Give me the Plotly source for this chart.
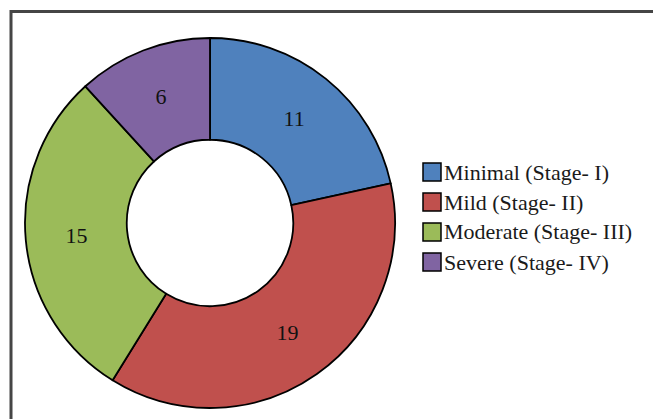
import plotly.graph_objects as go

W, H = 653, 419

labels = ["Minimal (Stage- I)", "Mild (Stage- II)", "Moderate (Stage- III)", "Severe (Stage- IV)"]
values = [11, 19, 15, 6]
colors = ["#4F81BD", "#C0504D", "#9BBB59", "#8064A2"]

SERIF = "'Liberation Serif', 'Times New Roman', Times, serif"
cx, cy, r = 210, 223, 185  # pixel centre/radius of donut

fig = go.Figure(go.Pie(
    labels=labels,
    values=values,
    sort=False,
    direction="clockwise",
    rotation=0,
    hole=0.45,
    marker=dict(colors=colors, line=dict(color="#000000", width=1.8)),
    texttemplate="%{value}",
    textposition="inside",
    insidetextorientation="horizontal",
    textfont=dict(family=SERIF, size=22, color="#111111"),
    domain=dict(x=[(cx - r) / W, (cx + r) / W],
                y=[(H - cy - r) / H, (H - cy + r) / H]),
    showlegend=False,
))

shapes = []
annotations = []
# outer frame (only top/left edges visible in the crop)
shapes.append(dict(type="rect", xref="paper", yref="paper",
                   x0=11 / W, x1=1.2, y0=-0.2, y1=1 - 11.5 / H,
                   line=dict(color="#454545", width=3), fillcolor="rgba(0,0,0,0)"))

row0, step, sw = 172, 30, 18
for i, (lab, col) in enumerate(zip(labels, colors)):
    yc = row0 + i * step
    shapes.append(dict(type="rect", xref="paper", yref="paper",
                       x0=423 / W, x1=(423 + sw) / W,
                       y0=1 - (yc + sw / 2) / H, y1=1 - (yc - sw / 2) / H,
                       fillcolor=col, line=dict(color="#000000", width=1.5)))
    annotations.append(dict(xref="paper", yref="paper", x=442 / W, y=1 - yc / H,
                            xanchor="left", yanchor="middle", showarrow=False,
                            text=lab,
                            font=dict(family=SERIF, size=22, color="#1a1a1a")))

fig.update_layout(
    width=W, height=H,
    margin=dict(l=0, r=0, t=0, b=0),
    paper_bgcolor="white",
    plot_bgcolor="white",
    font=dict(family=SERIF),
    shapes=shapes,
    annotations=annotations,
)

fig.write_html("out.html")
